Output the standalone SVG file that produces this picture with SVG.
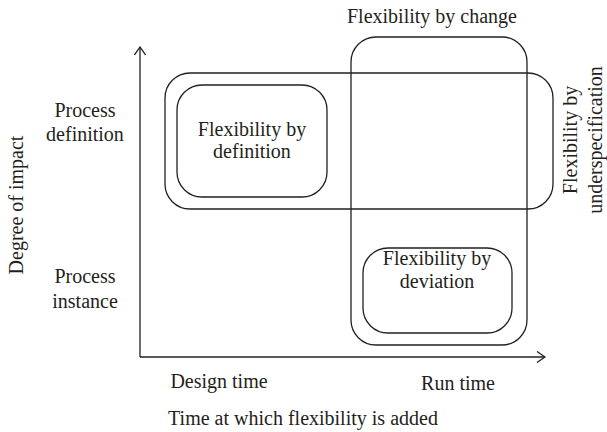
<svg xmlns="http://www.w3.org/2000/svg" width="607" height="432" viewBox="0 0 607 432">
<defs>
<style>
text{font-family:'Liberation Serif','DejaVu Serif',serif;font-size:20px;fill:#231f20;text-anchor:middle}
.box{fill:none;stroke:#231f20;stroke-width:1.3}
.ax{fill:none;stroke:#231f20;stroke-width:1.3}
</style>
<marker id="arr" viewBox="0 0 10 12" refX="9" refY="6" markerWidth="10" markerHeight="12" markerUnits="userSpaceOnUse" orient="auto">
<path d="M1,0.5 L9,6 L1,11.5" fill="none" stroke="#231f20" stroke-width="1.3"/>
</marker>
</defs>
<rect width="607" height="432" fill="#fff"/>
<g id="connectors">
<line class="ax" x1="140" y1="357" x2="140" y2="47" marker-end="url(#arr)"/>
<line class="ax" x1="140" y1="357" x2="545" y2="357" marker-end="url(#arr)"/>
</g>
<g id="underspecification">
<rect class="box" x="165" y="73" width="388" height="136" rx="25" ry="25"/>
<text transform="translate(577,140) rotate(-90)">Flexibility by</text>
<text transform="translate(602,140) rotate(-90)">underspecification</text>
</g>
<g id="change">
<rect class="box" x="351" y="37" width="176" height="308" rx="25" ry="25"/>
<text x="432" y="23">Flexibility by change</text>
</g>
<g id="definition">
<rect class="box" x="177" y="85" width="150" height="112" rx="25" ry="25"/>
<text x="252" y="136">Flexibility by</text>
<text x="252" y="158">definition</text>
</g>
<g id="deviation">
<rect class="box" x="363" y="248" width="149" height="85" rx="25" ry="25"/>
<text x="437" y="265">Flexibility by</text>
<text x="437" y="288">deviation</text>
</g>
<g id="y-labels">
<text x="85" y="117">Process</text>
<text x="85" y="141">definition</text>
<text x="85" y="283">Process</text>
<text x="85" y="308">instance</text>
<text transform="translate(23,205) rotate(-90)">Degree of impact</text>
</g>
<g id="x-labels">
<text x="219" y="388">Design time</text>
<text x="458" y="390">Run time</text>
<text x="303" y="425">Time at which flexibility is added</text>
</g>
</svg>
